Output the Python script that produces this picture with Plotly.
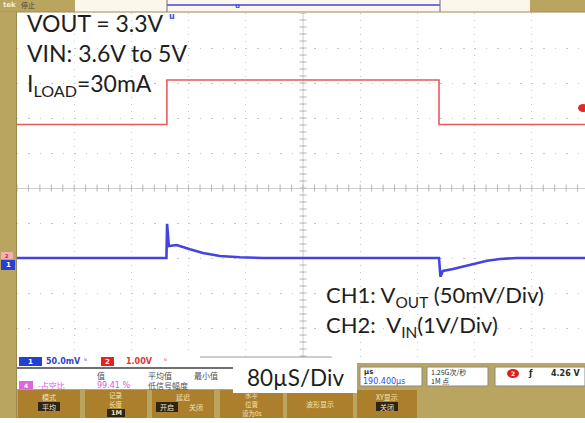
import plotly.graph_objects as go

W, H = 585, 423

# ---------------- data ----------------
# time in µs relative to the trigger point; 80 µs/div; screen centre = +190.4 µs
T_DIV = 80.0
H_POS = 190.4
T_LEFT = -209.6
T_RIGHT = 584.8

# CH2: VIN (1 V/div)
vin_t = [T_LEFT, 0.0, 0.0, 380.6, 380.6, T_RIGHT]
vin_v = [3.6, 3.6, 4.87, 4.87, 3.6, 3.6]
CH2_SCALE = 1.0      # V/div
CH2_POS = -1.786     # div

# CH1: VOUT (AC, 50 mV/div)
vout_t = [T_LEFT, -0.6, 0.3, 2.8, 6.0, 13.7, 32.3, 50.5, 74.3, 102.2, 135.0,
          380.6, 382.6, 386.0, 400.2, 428.2, 447.8, 466.0, 489.8, T_RIGHT]
vout_mv = [0, 0, 48.6, 17.1, 17.5, 18.6, 12.4, 7.1, 2.9, 1.0, 0,
           0, -26.7, -18.5, -15.7, -8.6, -3.9, -1.4, 0, 0]
CH1_SCALE = 50.0     # mV/div
CH1_POS = -2.0       # div

# ---------------- helpers ----------------
def px(x):
    return x / W

def py(y):
    return 1 - y / H

shapes = []
annos = []

def rect(x0, y0, x1, y1, fill, lc=None, lw=0):
    shapes.append(dict(type="rect", xref="paper", yref="paper",
                       x0=px(x0), x1=px(x1), y0=py(y1), y1=py(y0),
                       fillcolor=fill, layer="above",
                       line=dict(color=lc or fill, width=lw)))

def line(x0, y0, x1, y1, color, w=1):
    shapes.append(dict(type="line", xref="paper", yref="paper",
                       x0=px(x0), x1=px(x1), y0=py(y0), y1=py(y1),
                       layer="above", line=dict(color=color, width=w)))

def circ(x0, y0, x1, y1, fill):
    shapes.append(dict(type="circle", xref="paper", yref="paper",
                       x0=px(x0), x1=px(x1), y0=py(y1), y1=py(y0),
                       fillcolor=fill, layer="above", line=dict(color=fill, width=0)))

def txt(x, y, s, size, color, anchor="left", family="Noto Sans CJK SC", bold=False):
    if bold:
        s = "<b>" + s + "</b>"
    annos.append(dict(x=px(x), y=py(y), xref="paper", yref="paper", text=s,
                      showarrow=False, xanchor=anchor, yanchor="middle",
                      font=dict(size=size, color=color, family=family),
                      borderpad=0))

GOLD = "#b9a55f"
BTN = "#ac7f2c"
BTN_TXT = "#f3e3bb"
DARK = "#2a2a2a"

# ---------------- traces ----------------
fig = go.Figure()

vin_div = [CH2_POS + v / CH2_SCALE for v in vin_v]
vout_div = [CH1_POS + m / CH1_SCALE for m in vout_mv]

# graticule centre-line tick marks (1/5 division)
gx = [H_POS + k * T_DIV / 5 for k in range(-25, 26)]
gy = [k * 0.2 for k in range(-25, 26)]
fig.add_trace(go.Scatter(x=gx, y=[0] * len(gx), mode="markers", hoverinfo="skip",
                         marker=dict(symbol="line-ns", size=5,
                                     line=dict(color="#b4b4b4", width=1))))
fig.add_trace(go.Scatter(x=[H_POS] * len(gy), y=gy, mode="markers", hoverinfo="skip",
                         marker=dict(symbol="line-ew", size=5,
                                     line=dict(color="#b4b4b4", width=1))))

fig.add_trace(go.Scatter(x=vin_t, y=vin_div, mode="lines",
                         line=dict(color="#e85a5a", width=1.6), name="CH2 VIN"))
fig.add_trace(go.Scatter(x=vout_t, y=vout_div, mode="lines",
                         line=dict(color="#4444e0", width=2.6, shape="linear"),
                         name="CH1 VOUT"))

# vertical centre line
shapes.append(dict(type="line", xref="x", yref="paper", x0=H_POS, x1=H_POS,
                   y0=py(363), y1=py(13), layer="below",
                   line=dict(color="#cfcfcf", width=1)))

# ---------------- scope chrome ----------------
# top status bar
rect(0, 0, 585, 12, "#fcf7ea")
rect(0, 0, 75, 12, GOLD)
rect(530, 0, 585, 12, GOLD)
line(167, 5, 440, 5, "#7070e8", 2)
line(167, 0, 167, 12, "#6a6a8a", 1)
line(440, 0, 440, 12, "#6a6a8a", 1)
line(0, 12, 585, 12, "#9a8c5c", 1)
txt(2, 5.5, "tek", 7, "#f4eedc", family="DejaVu Sans", bold=True)
txt(20, 5.5, "停止", 7, "#4a4030")
txt(237, 6, "u", 7, "#3355dd", anchor="center", family="DejaVu Sans", bold=True)

# left strip
rect(0, 12, 16, 418, GOLD)
line(16.5, 12, 16.5, 418, "#9a8a50", 1)
rect(1, 252, 13, 259, "#f2b0b0")
txt(7, 255.5, "2", 5, "#cc2020", anchor="center", family="DejaVu Sans", bold=True)
rect(1, 260, 15, 270, "#2840d0")
txt(8, 265, "1", 7, "#ffffff", anchor="center", family="DejaVu Sans", bold=True)

# trigger position marker on screen and trigger level marker
annos.append(dict(x=0, y=py(17), xref="x", yref="paper", text="<b>u</b>",
                  showarrow=False, xanchor="left", yanchor="middle",
                  font=dict(size=8, color="#3355dd", family="DejaVu Sans")))
circ(578, 104, 588, 112, "#e02a2a")

# bottom readout area
rect(17, 356, 233, 389, "#ffffff")
rect(357, 363, 585, 389, GOLD)
rect(19, 357, 42, 366, "#2440d0")
txt(30.5, 361.5, "1", 7, "#ffffff", anchor="center", family="DejaVu Sans", bold=True)
txt(45, 361.5, "50.0mV", 8, "#3344cc", family="DejaVu Sans", bold=True)
txt(83, 360.5, "ᴺ", 6, "#3344cc", family="DejaVu Sans")
rect(101, 357, 114, 366, "#e02424")
txt(107.5, 361.5, "2", 7, "#ffffff", anchor="center", family="DejaVu Sans", bold=True)
txt(125, 361.5, "1.00V", 8, "#e03535", family="DejaVu Sans", bold=True)
txt(163, 360.5, "ᴺ", 6, "#e03535", family="DejaVu Sans")
line(17, 368, 233, 368, "#707070", 2)
line(200, 357, 331, 357, "#9a9a9a", 1)
line(331, 357, 334, 363, "#9a9a9a", 1)

txt(96, 375, "值", 8, "#505050")
txt(147, 375, "平均值", 8, "#505050")
txt(193, 375, "最小值", 8, "#505050")
rect(19, 381, 33, 389, "#e066e0")
txt(26, 385, "4", 6, "#ffffff", anchor="center", family="DejaVu Sans", bold=True)
txt(37, 385, "-占空比", 8, "#dd55dd")
txt(96, 385, "99.41 %", 8, "#dd55dd", family="DejaVu Sans")
txt(147, 385, "低信号幅度", 8, "#505050")

# right readout boxes
rect(360, 367, 422, 386, "#ffffff", "#8a8a8a", 1)
txt(363, 372, "µs", 7, DARK, family="DejaVu Sans", bold=True)
txt(362, 381, "190.400µs", 8, "#2255dd", family="DejaVu Sans")
rect(427, 367, 488, 386, "#ffffff", "#8a8a8a", 1)
txt(430, 372, "1.25G次/秒", 7, DARK)
txt(430, 381, "1M 点", 7, DARK)
rect(495, 367, 585, 386, "#ffffff", "#8a8a8a", 1)
circ(507, 369, 519, 378, "#e01e1e")
txt(513, 373.5, "2", 6, "#ffffff", anchor="center", family="DejaVu Sans", bold=True)
txt(530, 373.5, "ƒ", 8, DARK, anchor="center", family="DejaVu Sans", bold=True)
txt(582, 373.5, "4.26 V", 8, DARK, anchor="right", family="DejaVu Sans", bold=True)

# soft-key buttons
rect(17, 389, 585, 418, GOLD)
buttons = [(18, 80), (85, 147), (152, 214), (220, 283), (287, 353), (357, 417)]
for bx0, bx1 in buttons:
    rect(bx0, 390, bx1, 418, BTN)
txt(49, 397, "模式", 7, BTN_TXT, anchor="center")
rect(38, 402, 60, 411, "#2e2410")
txt(49, 406.5, "平均", 7, "#f0e6cc", anchor="center")
txt(116, 395, "记录", 6.5, BTN_TXT, anchor="center")
txt(116, 403.5, "长度", 6.5, BTN_TXT, anchor="center")
rect(107, 409, 125, 417, "#2e2410")
txt(116, 413, "1M", 6.5, "#f0e6cc", anchor="center", family="DejaVu Sans", bold=True)
txt(183, 397, "延迟", 7, BTN_TXT, anchor="center")
rect(156, 402, 178, 412, "#2e2410")
txt(167, 407, "开启", 7, "#f0e6cc", anchor="center")
txt(196, 407, "关闭", 7, BTN_TXT, anchor="center")
txt(251.5, 394.5, "水平", 6.5, BTN_TXT, anchor="center")
txt(251.5, 403.5, "位置", 6.5, BTN_TXT, anchor="center")
txt(251.5, 412.5, "设为0s", 6.5, BTN_TXT, anchor="center")
txt(320, 404, "波形显示", 7, BTN_TXT, anchor="center")
txt(387, 397, "XY显示", 7, BTN_TXT, anchor="center")
rect(376, 402, 398, 411, "#2e2410")
txt(387, 406.5, "关闭", 7, "#f0e6cc", anchor="center")

# 80µS/Div overlay box
rect(233, 358, 357, 393, "#ffffff")
txt(295, 377, "80µS/Div", 22.5, "#1e1e1e", anchor="center", family="Lato")

# big annotation texts
txt(26, 23, "VOUT = 3.3V", 23, "#1e1e1e", family="Lato")
txt(26, 53, "VIN: 3.6V to 5V", 23, "#1e1e1e", family="Lato")
txt(26, 85, "I<sub>LOAD</sub>=30mA", 23, "#1e1e1e", family="Lato")
txt(325, 296, "CH1: V<sub>OUT</sub> (50mV/Div)", 22, "#1e1e1e", family="Lato")
txt(325, 326, "CH2:  V<sub>IN</sub>(1V/Div)", 22, "#1e1e1e", family="Lato")

fig.update_layout(
    width=W, height=H,
    margin=dict(l=0, r=0, t=0, b=0),
    paper_bgcolor="#ffffff", plot_bgcolor="#ffffff",
    showlegend=False,
    shapes=shapes, annotations=annos,
    xaxis=dict(range=[T_LEFT, T_RIGHT], domain=[px(17), 1.0],
               tick0=H_POS, dtick=T_DIV, showgrid=True, gridcolor="#c6c6c6",
               gridwidth=1.4, griddash="1.4px,5.6px", zeroline=False,
               showticklabels=False, ticks="", showline=False, fixedrange=True),
    yaxis=dict(range=[-5, 5], domain=[py(363), py(13)],
               tick0=0, dtick=1, showgrid=True, gridcolor="#c6c6c6",
               gridwidth=1.4, griddash="1.4px,10.04px",
               zeroline=True, zerolinecolor="#cfcfcf", zerolinewidth=1,
               showticklabels=False, ticks="", showline=False, fixedrange=True),
)

fig.write_html("out.html", config={"displayModeBar": False},
               post_script="document.body.style.margin='0';")
